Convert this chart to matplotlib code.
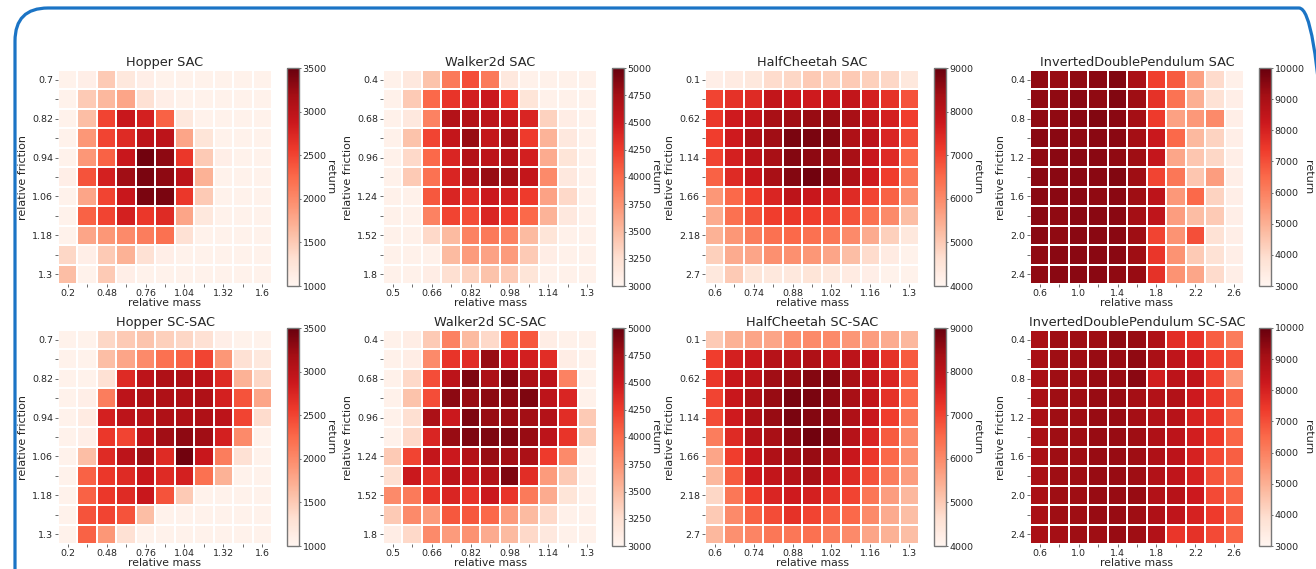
import matplotlib
matplotlib.use('Agg')
from matplotlib import pyplot as plt
from matplotlib.patches import FancyBboxPatch
import numpy as np

# axis values (11 x 11 grids), labels shown on every other tick
hopper_mass = ['0.2', '0.48', '0.76', '1.04', '1.32', '1.6']
hopper_friction = ['0.7', '0.82', '0.94', '1.06', '1.18', '1.3']
walker_mass = ['0.5', '0.66', '0.82', '0.98', '1.14', '1.3']
walker_friction = ['0.4', '0.68', '0.96', '1.24', '1.52', '1.8']
cheetah_mass = ['0.6', '0.74', '0.88', '1.02', '1.16', '1.3']
cheetah_friction = ['0.1', '0.62', '1.14', '1.66', '2.18', '2.7']
pendulum_mass = ['0.6', '1.0', '1.4', '1.8', '2.2', '2.6']
pendulum_friction = ['0.4', '0.8', '1.2', '1.6', '2.0', '2.4']

hopper_range = (1000, 3500)
walker_range = (3000, 5000)
cheetah_range = (4000, 9000)
pendulum_range = (3000, 10000)

# returns, rows = friction (top to bottom), cols = mass (left to right)
hopper_sac = [
    [1050, 1100, 1500, 1200, 1100, 1050, 1050, 1050, 1050, 1050, 1050],
    [1050, 1500, 1650, 1800, 1300, 1100, 1050, 1050, 1050, 1050, 1050],
    [1050, 1600, 2500, 2900, 2800, 2300, 1200, 1050, 1050, 1050, 1050],
    [1050, 1900, 2500, 2700, 3000, 3000, 1800, 1250, 1050, 1050, 1050],
    [1050, 1900, 2300, 2900, 3450, 3300, 2600, 1500, 1100, 1050, 1050],
    [1100, 2400, 2800, 3200, 3400, 3300, 3000, 1700, 1050, 1050, 1050],
    [1050, 1800, 2500, 2900, 3400, 3400, 2600, 1500, 1050, 1050, 1050],
    [1050, 2300, 2500, 2800, 2600, 2700, 1800, 1200, 1050, 1050, 1050],
    [1050, 1800, 1900, 2000, 2100, 2200, 1300, 1050, 1050, 1050, 1050],
    [1400, 1100, 1500, 1700, 1300, 1100, 1050, 1050, 1050, 1050, 1050],
    [1600, 1050, 1500, 1100, 1050, 1050, 1050, 1050, 1050, 1050, 1050],
]
hopper_scsac = [
    [1050, 1050, 1400, 1500, 1550, 1450, 1400, 1300, 1100, 1050, 1050],
    [1050, 1050, 1600, 1800, 2000, 2200, 2300, 2500, 1900, 1300, 1200],
    [1050, 1050, 1300, 2700, 3000, 3100, 3100, 3000, 2700, 1700, 1400],
    [1050, 1100, 2100, 3000, 3100, 3100, 3100, 3100, 2800, 2400, 1800],
    [1050, 1150, 2800, 3000, 3050, 3100, 3100, 3100, 3000, 2500, 1350],
    [1050, 1100, 2600, 2500, 3000, 3200, 3300, 3200, 2800, 2000, 1050],
    [1050, 1600, 2700, 3000, 3200, 2700, 3450, 2900, 2100, 1300, 1050],
    [1050, 2300, 2600, 2700, 2900, 2700, 2800, 2200, 1700, 1050, 1050],
    [1050, 2300, 2600, 2700, 2900, 2400, 1500, 1050, 1050, 1050, 1050],
    [1050, 2400, 2500, 2400, 1600, 1050, 1050, 1050, 1050, 1050, 1050],
    [1050, 2300, 1900, 1300, 1050, 1050, 1050, 1050, 1050, 1050, 1050],
]
walker_sac = [
    [3050, 3150, 3450, 3900, 4150, 3900, 3150, 3050, 3050, 3050, 3050],
    [3050, 3400, 4000, 4300, 4450, 4500, 4250, 3200, 3050, 3050, 3050],
    [3050, 3150, 3850, 4650, 4650, 4600, 4550, 4400, 3350, 3100, 3050],
    [3050, 3450, 4200, 4550, 4800, 4550, 4700, 4250, 3550, 3150, 3050],
    [3050, 3300, 4000, 4400, 4650, 4600, 4650, 4450, 3600, 3200, 3050],
    [3050, 3400, 3950, 4400, 4650, 4800, 4750, 4550, 3800, 3150, 3050],
    [3050, 3050, 4100, 4400, 4350, 4500, 4450, 4250, 3650, 3300, 3050],
    [3050, 3050, 3850, 4200, 4150, 4400, 4250, 4000, 3550, 3150, 3050],
    [3050, 3050, 3300, 3500, 3850, 3900, 3850, 3500, 3200, 3050, 3050],
    [3050, 3050, 3050, 3500, 3700, 3650, 3700, 3400, 3100, 3050, 3050],
    [3050, 3050, 3100, 3250, 3350, 3450, 3400, 3200, 3050, 3050, 3050],
]
walker_scsac = [
    [3050, 3100, 3400, 3850, 3500, 3300, 4000, 4100, 3100, 3050, 3050],
    [3050, 3100, 3800, 4300, 4350, 4800, 4500, 4450, 4350, 3100, 3050],
    [3050, 3300, 4150, 4600, 4900, 4700, 4900, 4700, 4600, 3850, 3050],
    [3050, 3450, 4150, 4850, 4800, 4850, 4850, 4900, 4600, 4400, 3050],
    [3050, 3250, 4700, 4500, 4900, 4800, 4800, 4750, 4650, 4350, 3400],
    [3050, 3300, 4400, 4800, 4900, 4900, 4900, 4800, 4600, 4300, 3400],
    [3400, 4200, 4550, 4500, 4650, 4800, 4750, 4700, 4250, 3800, 3050],
    [3250, 4500, 4350, 4600, 4550, 4650, 4900, 4350, 3700, 3400, 3050],
    [3800, 3900, 4300, 4400, 4300, 4500, 4300, 3900, 3600, 3200, 3050],
    [3400, 3800, 3700, 4100, 4100, 4000, 3700, 3500, 3300, 3050, 3050],
    [3100, 3300, 3800, 3700, 3750, 3600, 3500, 3300, 3150, 3050, 3050],
]
cheetah_sac = [
    [4200, 4300, 4400, 4700, 4800, 5000, 4900, 5000, 4900, 4800, 4400],
    [7000, 7300, 7400, 7900, 7800, 7700, 7800, 7900, 7600, 7300, 6800],
    [7200, 7700, 7900, 8300, 8400, 8500, 8500, 8300, 7900, 7600, 7100],
    [7100, 7700, 8200, 8400, 8800, 8800, 8700, 8200, 8000, 7500, 6900],
    [7000, 7600, 8000, 8300, 8700, 8600, 8500, 8300, 7800, 7400, 6500],
    [6600, 7400, 7800, 8300, 8700, 8900, 8600, 8200, 7700, 7100, 6300],
    [5800, 6500, 7100, 7500, 8000, 7800, 7600, 7400, 7000, 6600, 5900],
    [5500, 6400, 6800, 7100, 7200, 7100, 7000, 6800, 6400, 6000, 5200],
    [5400, 5800, 6200, 6400, 6500, 6400, 6300, 6000, 5500, 4900, 4400],
    [4900, 5500, 5600, 5900, 5900, 5800, 5600, 5200, 4700, 4300, 4100],
    [4400, 5000, 4500, 4400, 4400, 4500, 4400, 4300, 4200, 4100, 4100],
]
cheetah_scsac = [
    [5000, 5400, 5600, 5600, 5900, 6000, 6000, 5800, 5700, 5500, 5300],
    [7100, 7600, 7800, 8100, 8100, 8200, 7900, 8000, 7800, 7300, 6700],
    [7200, 7800, 8000, 8400, 8500, 8700, 8700, 8300, 7900, 7500, 6700],
    [7000, 7800, 8200, 8500, 8800, 8800, 8600, 8300, 7900, 7300, 6500],
    [6900, 7700, 8200, 8500, 8800, 8700, 8600, 8200, 7800, 7100, 6300],
    [6200, 7400, 8100, 8300, 8600, 8900, 8700, 8100, 7500, 6700, 6000],
    [5600, 7100, 7800, 8200, 8400, 8500, 8300, 7800, 7200, 6500, 5900],
    [5300, 6700, 7700, 7900, 8100, 8300, 7800, 7400, 6800, 6200, 5700],
    [4800, 6300, 7100, 7500, 7700, 7600, 7300, 7000, 6300, 5700, 5300],
    [5000, 6000, 6600, 6900, 7300, 7000, 6700, 6500, 6000, 5500, 5200],
    [5300, 5900, 6100, 6300, 6300, 6400, 6200, 6000, 5600, 5400, 5200],
]
pendulum_sac = [
    [9400, 9300, 9400, 9500, 9600, 9000, 7300, 6800, 5300, 4000, 3200],
    [9400, 9400, 9500, 9400, 9600, 9200, 7600, 6300, 5000, 3800, 3300],
    [9400, 9400, 9500, 9600, 9500, 9100, 7400, 5300, 5500, 5800, 3300],
    [9500, 9500, 9400, 9500, 9500, 9100, 8300, 6500, 4800, 4200, 3300],
    [9400, 9500, 9500, 9500, 9400, 9200, 8400, 5200, 4500, 4100, 3300],
    [9500, 9500, 9500, 9500, 9600, 9200, 7200, 6200, 4500, 5400, 3300],
    [9500, 9500, 9500, 9400, 9500, 9200, 8600, 5500, 6500, 4200, 3300],
    [9500, 9400, 9500, 9500, 9500, 9100, 8500, 5400, 4700, 4400, 3300],
    [9500, 9400, 9500, 9500, 9500, 9200, 7200, 5600, 7000, 3800, 3300],
    [9400, 9500, 9500, 9500, 9500, 9200, 7500, 5600, 4400, 3800, 3300],
    [9400, 9500, 9500, 9500, 9400, 9300, 7600, 5600, 5200, 4000, 3300],
]
pendulum_scsac = [
    [9000, 9200, 9200, 9200, 9400, 9300, 8900, 7700, 7500, 6700, 6100],
    [9000, 9200, 9200, 9300, 9300, 9400, 9000, 8500, 8200, 7300, 6900],
    [9000, 9200, 9200, 9300, 9300, 9500, 8100, 8600, 8500, 7200, 5500],
    [9000, 9200, 9200, 9300, 9300, 9100, 8800, 8800, 8200, 7500, 6700],
    [9000, 9200, 9200, 9300, 9300, 9100, 8800, 8700, 8000, 7500, 6500],
    [9000, 9200, 9200, 9300, 9300, 9200, 8900, 8600, 8100, 7400, 6600],
    [9000, 9200, 9200, 9300, 9300, 9200, 8900, 8600, 8000, 7100, 6700],
    [9000, 9200, 9200, 9300, 9300, 9200, 8800, 8500, 8000, 6900, 6400],
    [9000, 9200, 9200, 9300, 9300, 9300, 8800, 8700, 8200, 7100, 6600],
    [9000, 9200, 9200, 9300, 9300, 9200, 8900, 8500, 8000, 7400, 6700],
    [9000, 9100, 9200, 9200, 9300, 9200, 8800, 7500, 7600, 7100, 6600],
]

panels = [
    ('Hopper SAC', hopper_sac, hopper_mass, hopper_friction, hopper_range, 500),
    ('Walker2d SAC', walker_sac, walker_mass, walker_friction, walker_range, 250),
    ('HalfCheetah SAC', cheetah_sac, cheetah_mass, cheetah_friction, cheetah_range, 1000),
    ('InvertedDoublePendulum SAC', pendulum_sac, pendulum_mass, pendulum_friction, pendulum_range, 1000),
    ('Hopper SC-SAC', hopper_scsac, hopper_mass, hopper_friction, hopper_range, 500),
    ('Walker2d SC-SAC', walker_scsac, walker_mass, walker_friction, walker_range, 250),
    ('HalfCheetah SC-SAC', cheetah_scsac, cheetah_mass, cheetah_friction, cheetah_range, 1000),
    ('InvertedDoublePendulum SC-SAC', pendulum_scsac, pendulum_mass, pendulum_friction, pendulum_range, 1000),
]

W, H = 1316, 569
fig = plt.figure(figsize=(W / 100, H / 100), dpi=100)
fig.patch.set_facecolor('white')

# blue rounded frame (inches), left 15px, top 8px, right side just off the picture
rad = 0.33
fx0, fx1, fy0, fy1 = 0.15, 13.32, -0.5, 5.61
frame = FancyBboxPatch((fx0 + rad, fy0 + rad), fx1 - fx0 - 2 * rad, fy1 - fy0 - 2 * rad,
                       boxstyle='round,pad=%g' % rad, transform=fig.dpi_scale_trans,
                       facecolor='none', edgecolor='#1b74c5', linewidth=2.3, clip_on=False)
fig.patches.append(frame)

text_col = '#262626'
lefts = [58, 383, 705, 1030]
tops = [70, 330]
size = 214

def frac(x, y, w, h):
    return [x / W, 1 - (y + h) / H, w / W, h / H]

for k, (title, vals, mlabels, flabels, vrange, step) in enumerate(panels):
    r, c = divmod(k, 4)
    x0, y0 = lefts[c], tops[r]
    ax = fig.add_axes(frac(x0, y0, size, size))
    cax = fig.add_axes(frac(x0 + 229, y0 - 2, 12, size + 4))

    data = np.array(vals)
    mesh = ax.pcolormesh(data, cmap='Reds', vmin=vrange[0], vmax=vrange[1],
                         edgecolors='white', linewidth=1.2)
    ax.set_xlim(0, 11)
    ax.set_ylim(11, 0)
    for s in ax.spines.values():
        s.set_visible(False)

    ticks = np.arange(11) + 0.5
    xl = []
    yl = []
    for i in range(11):
        xl.append(mlabels[i // 2] if i % 2 == 0 else '')
        yl.append(flabels[i // 2] if i % 2 == 0 else '')
    ax.set_xticks(ticks)
    ax.set_xticklabels(xl)
    ax.set_yticks(ticks)
    ax.set_yticklabels(yl)
    ax.tick_params(length=2, width=0.6, color='#555555', labelsize=6.8,
                   labelcolor=text_col, pad=1.5)
    ax.set_xlabel('relative mass', fontsize=7.8, color=text_col, labelpad=0)
    ax.set_ylabel('relative friction', fontsize=8, color=text_col, labelpad=3)
    ax.set_title(title, fontsize=9.3, color=text_col, pad=3)

    cb = fig.colorbar(mesh, cax=cax)
    cb.set_ticks(np.arange(vrange[0], vrange[1] + 1, step))
    cb.outline.set_edgecolor('#777777')
    cb.outline.set_linewidth(1.0)
    cax.tick_params(length=1.5, width=0.6, color='#555555', labelsize=6.8,
                    labelcolor=text_col, pad=1)
    cb.set_label('return', rotation=270, fontsize=8, color=text_col, labelpad=6)

fig.savefig('out.png', dpi=100, facecolor='white')
